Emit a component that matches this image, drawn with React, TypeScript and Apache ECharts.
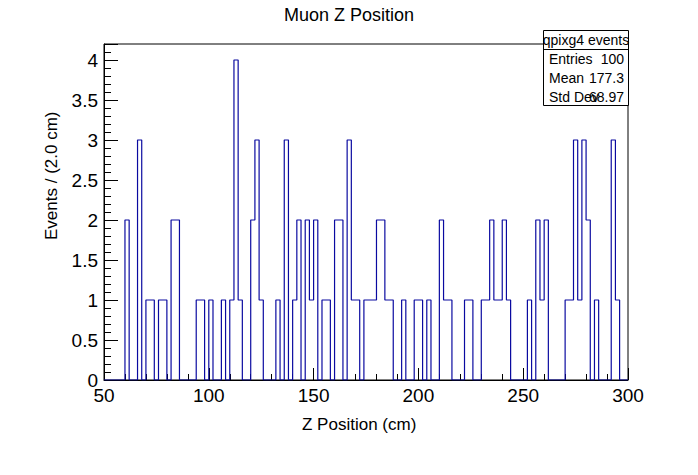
import { useEffect, useRef } from 'react';
import * as echarts from 'echarts';

// bin contents, 2 cm bins from 50 to 300
const counts = [
    0, 0, 0, 0, 0, 2, 0, 0, 3, 0,
    1, 1, 0, 1, 1, 0, 2, 2, 0, 0,
    0, 0, 1, 1, 0, 1, 0, 0, 1, 0,
    1, 4, 1, 0, 0, 2, 3, 1, 0, 0,
    0, 1, 0, 3, 0, 1, 2, 0, 2, 1,
    2, 0, 1, 1, 0, 2, 2, 0, 3, 1,
    1, 0, 1, 1, 1, 2, 2, 1, 1, 0,
    0, 1, 0, 0, 1, 1, 0, 1, 0, 0,
    2, 1, 1, 0, 0, 0, 1, 1, 0, 0,
    1, 1, 2, 1, 1, 2, 1, 0, 0, 0,
    0, 1, 0, 2, 1, 2, 0, 0, 0, 0,
    1, 1, 3, 1, 3, 2, 0, 1, 0, 0,
    0, 3, 1, 0, 0,
];
const xMin = 50;
const binWidth = 2;
const statsLabels = ['Entries', 'Mean', 'Std Dev'];
const statsValues = ['100', '177.3', '68.97'];

export default function App() {
    const ref = useRef<HTMLDivElement>(null);

    useEffect(() => {
        if (!ref.current) return;
        const chart = echarts.init(ref.current, undefined, { renderer: 'svg' });
        const font = "'Liberation Sans', Arial, sans-serif";

        const data = counts.map((v, i) => [xMin + i * binWidth, v]);
        data.push([xMin + counts.length * binWidth, 0]);

        const statsText: any[] = [];
        statsLabels.forEach((l, i) => {
            statsText.push({
                type: 'text', x: 549, y: 52 + i * 19,
                style: { text: l, font: `14px ${font}`, fill: '#000' }
            });
            statsText.push({
                type: 'text', x: 624, y: 52 + i * 19,
                style: { text: statsValues[i], font: `14px ${font}`, fill: '#000', align: 'right' }
            });
        });

        chart.setOption({
            animation: false,
            backgroundColor: '#fff',
            grid: { left: 104, right: 70, top: 44, bottom: 95, show: true, borderColor: '#000', borderWidth: 1 },
            xAxis: {
                type: 'value', min: 50, max: 300, interval: 50,
                axisLine: { show: true, onZero: false, lineStyle: { color: '#000' } },
                axisTick: { inside: true, length: 12, lineStyle: { color: '#000' } },
                minorTick: { show: true, splitNumber: 5, length: 6, lineStyle: { color: '#000' } },
                splitLine: { show: false },
                axisLabel: { color: '#000', fontSize: 19, fontFamily: font, margin: 6 }
            },
            yAxis: {
                type: 'value', min: 0, max: 4.2, interval: 0.5,
                axisLine: { show: true, lineStyle: { color: '#000' } },
                axisTick: { inside: true, length: 14, lineStyle: { color: '#000' } },
                minorTick: { show: true, splitNumber: 5, length: 7, lineStyle: { color: '#000' } },
                splitLine: { show: false },
                axisLabel: {
                    color: '#000', fontSize: 19, fontFamily: font, margin: 6,
                    formatter: (v: number) => (v > 4 ? '' : String(v))
                }
            },
            series: [{
                type: 'line', step: 'end', data, symbol: 'none',
                lineStyle: { color: '#0a0aa0', width: 1.2 }
            }],
            graphic: [
                {
                    type: 'text', left: 'center', top: 6,
                    style: { text: 'Muon Z Position', font: `18px ${font}`, fill: '#000' }
                },
                {
                    type: 'text', left: 302, top: 416,
                    style: { text: 'Z Position (cm)', font: `17px ${font}`, fill: '#000' }
                },
                {
                    type: 'text', x: 43, y: 240, rotation: Math.PI / 2,
                    style: { text: 'Events / (2.0 cm)', font: `17px ${font}`, fill: '#000' }
                },
                {
                    type: 'rect', shape: { x: 543.5, y: 30.5, width: 85, height: 75 },
                    style: { fill: '#fff', stroke: '#000', lineWidth: 1 }
                },
                {
                    type: 'line', shape: { x1: 543.5, y1: 49.5, x2: 628.5, y2: 49.5 },
                    style: { stroke: '#000', lineWidth: 1 }
                },
                {
                    type: 'text', x: 586, y: 33,
                    style: { text: 'qpixg4 events', font: `14px ${font}`, fill: '#000', align: 'center' }
                },
                ...statsText
            ]
        });

        return () => chart.dispose();
    }, []);

    return <div ref={ref} style={{ width: 698, height: 475, margin: -8 }} />;
}
